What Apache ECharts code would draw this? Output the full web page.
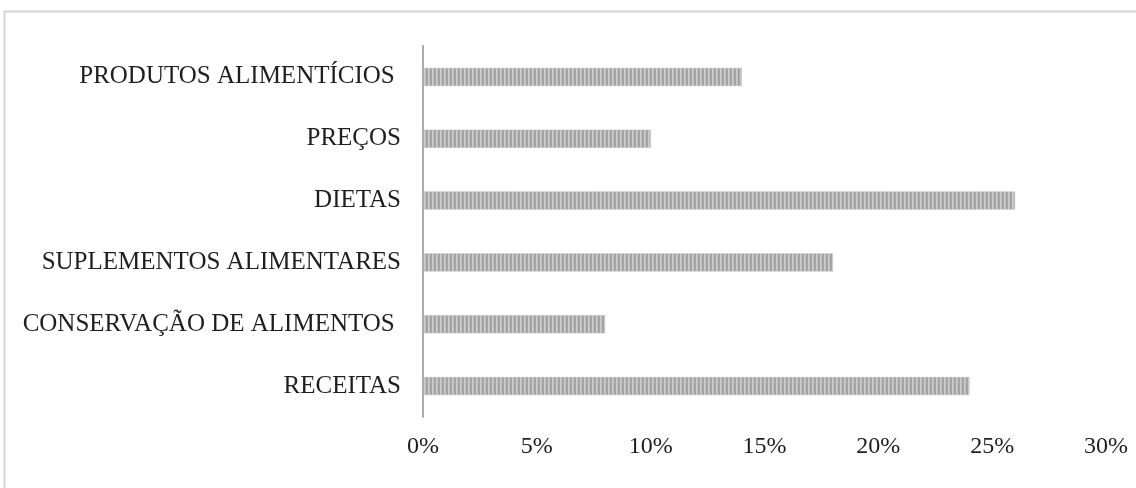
<!DOCTYPE html>
<html><head><meta charset="utf-8">
<script src="https://cdn.jsdelivr.net/npm/echarts@6/dist/echarts.min.js"></script>
<style>html,body{margin:0;padding:0;background:#fff}#c{width:1136px;height:488px}</style>
</head><body><div id="c"></div>
<script>
const categories = ['RECEITAS','CONSERVAÇÃO DE ALIMENTOS ','SUPLEMENTOS ALIMENTARES','DIETAS','PREÇOS','PRODUTOS ALIMENTÍCIOS '];
const values = [24, 8, 18, 26, 10, 14];
const tickMin = 0, tickMax = 30, tickStep = 5;

const pc = document.createElement('canvas');
pc.width = 4; pc.height = 4;
const g = pc.getContext('2d');
g.fillStyle = '#c2c2c2'; g.fillRect(0,0,4,4);
g.fillStyle = '#cbcbcb'; g.fillRect(0,0,1,4);
g.fillStyle = '#9e9e9e'; g.fillRect(2,0,1,4);
g.fillStyle = '#a8a8a8'; g.fillRect(3,0,1,4);

const chart = echarts.init(document.getElementById('c'), null, {renderer:'canvas'});
chart.setOption({
  animation:false,
  backgroundColor:'#fff',
  graphic:[{type:'polyline', shape:{points:[[4.5,488],[4.5,11.5],[1136,11.5]]}, style:{stroke:'#d6d6d6', lineWidth:2, fill:null}, silent:true}],
  grid:{left:423, right:30, top:46, bottom:71, containLabel:false},
  xAxis:{type:'value', min:tickMin, max:tickMax, interval:tickStep,
    axisLine:{show:false}, axisTick:{show:false}, splitLine:{show:false},
    axisLabel:{formatter:'{value}%', color:'#1e1e1e', fontFamily:'Liberation Serif', fontSize:24, margin:18}},
  yAxis:{type:'category', data:categories,
    axisLine:{show:true, lineStyle:{color:'#ababab', width:2}}, axisTick:{show:false},
    axisLabel:{color:'#1e1e1e', fontFamily:'Liberation Serif', fontSize:25, margin:22}},
  series:[{type:'bar', data:values, barWidth:18,
    itemStyle:{color:{image:pc, repeat:'repeat'}, borderColor:'#b4b4b4', borderWidth:0.5}}]
});
</script></body></html>
